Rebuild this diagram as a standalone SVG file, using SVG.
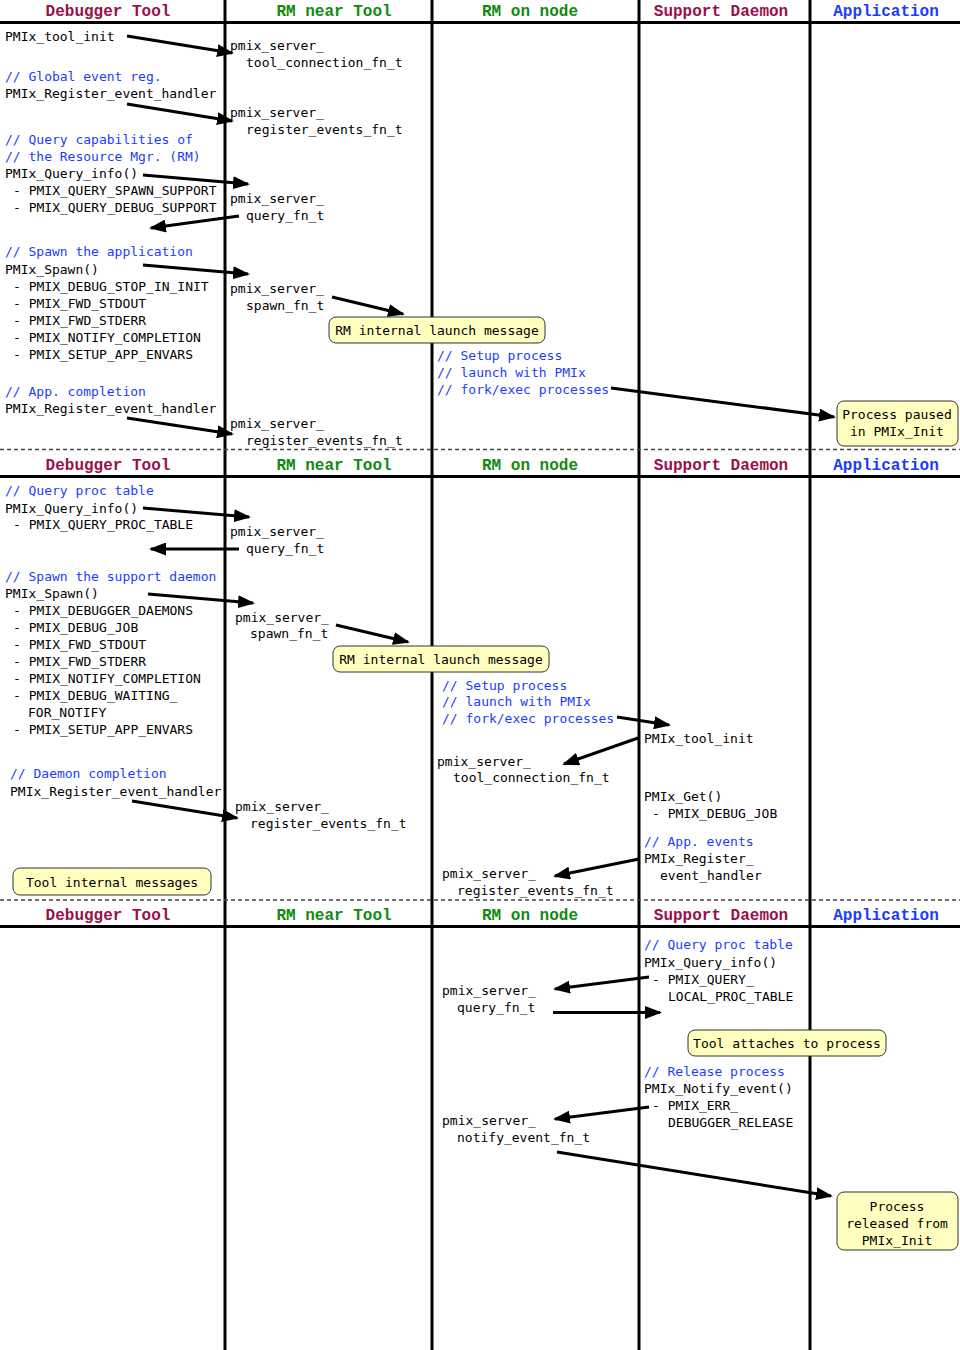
<svg xmlns="http://www.w3.org/2000/svg" width="960" height="1350" viewBox="0 0 960 1350">
<style>
.bg{fill:#ffffff}
.lane{stroke:#000;stroke-width:3;fill:none}
.dash{stroke:#444;stroke-width:1.5;stroke-dasharray:4 3;fill:none}
.hd{font-family:"Liberation Mono","Courier New",monospace;font-weight:bold;font-size:16px;text-anchor:middle}
.mar{fill:#99104a}
.grn{fill:#108a10}
.blu{fill:#1a3cff}
.t{font-family:"DejaVu Sans Mono","Liberation Mono",monospace;font-size:13px;fill:#000}
.c{font-family:"DejaVu Sans Mono","Liberation Mono",monospace;font-size:13px;fill:#1a3cff}
.box{fill:#ffffc0;stroke:#333;stroke-width:1}
.bt{font-family:"DejaVu Sans Mono","Liberation Mono",monospace;font-size:13px;fill:#000;text-anchor:middle}
.arr{stroke:#000;stroke-width:3;fill:none;marker-end:url(#ah)}
</style>
<defs>
<marker id="ah" markerUnits="userSpaceOnUse" viewBox="0 0 17 13" markerWidth="17" markerHeight="13" refX="15" refY="6.5" orient="auto">
<path d="M0,0 L17,6.5 L0,13 z" fill="#000"/>
</marker>
</defs>
<rect class="bg" x="0" y="0" width="960" height="1350"/>

<g id="lanes">
<line class="lane" x1="225" y1="0" x2="225" y2="1350"/>
<line class="lane" x1="432" y1="0" x2="432" y2="1350"/>
<line class="lane" x1="639" y1="0" x2="639" y2="1350"/>
<line class="lane" x1="810" y1="0" x2="810" y2="1350"/>
<line class="lane" x1="0" y1="22.5" x2="960" y2="22.5"/>
<line class="lane" x1="0" y1="476.5" x2="960" y2="476.5"/>
<line class="lane" x1="0" y1="926.5" x2="960" y2="926.5"/>
<line class="dash" x1="0" y1="449.5" x2="960" y2="449.5"/>
<line class="dash" x1="0" y1="900" x2="960" y2="900"/>
</g>

<g id="headers">
<text class="hd mar" x="108" y="16">Debugger Tool</text>
<text class="hd grn" x="334" y="16">RM near Tool</text>
<text class="hd grn" x="530" y="16">RM on node</text>
<text class="hd mar" x="721" y="16">Support Daemon</text>
<text class="hd blu" x="886" y="16">Application</text>
<text class="hd mar" x="108" y="470">Debugger Tool</text>
<text class="hd grn" x="334" y="470">RM near Tool</text>
<text class="hd grn" x="530" y="470">RM on node</text>
<text class="hd mar" x="721" y="470">Support Daemon</text>
<text class="hd blu" x="886" y="470">Application</text>
<text class="hd mar" x="108" y="920">Debugger Tool</text>
<text class="hd grn" x="334" y="920">RM near Tool</text>
<text class="hd grn" x="530" y="920">RM on node</text>
<text class="hd mar" x="721" y="920">Support Daemon</text>
<text class="hd blu" x="886" y="920">Application</text>
</g>

<!-- Section 1 -->
<g id="tool-init">
<text class="t" x="5" y="41">PMIx_tool_init</text>
</g>
<g id="tool-global-reg">
<text class="c" x="5" y="81">// Global event reg.</text>
<text class="t" x="5" y="98">PMIx_Register_event_handler</text>
</g>
<g id="tool-query">
<text class="c" x="5" y="144">// Query capabilities of</text>
<text class="c" x="5" y="161">// the Resource Mgr. (RM)</text>
<text class="t" x="5" y="178">PMIx_Query_info()</text>
<text class="t" x="13" y="195">- PMIX_QUERY_SPAWN_SUPPORT</text>
<text class="t" x="13" y="212">- PMIX_QUERY_DEBUG_SUPPORT</text>
</g>
<g id="tool-spawn">
<text class="c" x="5" y="256">// Spawn the application</text>
<text class="t" x="5" y="274">PMIx_Spawn()</text>
<text class="t" x="13" y="291">- PMIX_DEBUG_STOP_IN_INIT</text>
<text class="t" x="13" y="308">- PMIX_FWD_STDOUT</text>
<text class="t" x="13" y="325">- PMIX_FWD_STDERR</text>
<text class="t" x="13" y="342">- PMIX_NOTIFY_COMPLETION</text>
<text class="t" x="13" y="359">- PMIX_SETUP_APP_ENVARS</text>
</g>
<g id="tool-app-completion">
<text class="c" x="5" y="396">// App. completion</text>
<text class="t" x="5" y="413">PMIx_Register_event_handler</text>
</g>
<g id="rm-tool-connection">
<text class="t" x="230" y="50">pmix_server_</text>
<text class="t" x="246" y="67">tool_connection_fn_t</text>
</g>
<g id="rm-register-events-1">
<text class="t" x="230" y="117">pmix_server_</text>
<text class="t" x="246" y="134">register_events_fn_t</text>
</g>
<g id="rm-query-1">
<text class="t" x="230" y="203">pmix_server_</text>
<text class="t" x="246" y="220">query_fn_t</text>
</g>
<g id="rm-spawn-1">
<text class="t" x="230" y="293">pmix_server_</text>
<text class="t" x="246" y="310">spawn_fn_t</text>
</g>
<g id="rm-register-events-2">
<text class="t" x="230" y="428">pmix_server_</text>
<text class="t" x="246" y="445">register_events_fn_t</text>
</g>
<g id="launch-msg-1">
<rect class="box" x="329" y="317" width="216" height="26" rx="7"/>
<text class="bt" x="437" y="335">RM internal launch message</text>
</g>
<g id="node-setup-1">
<text class="c" x="437" y="360">// Setup process</text>
<text class="c" x="437" y="377">// launch with PMIx</text>
<text class="c" x="437" y="394">// fork/exec processes</text>
</g>
<g id="app-paused">
<rect class="box" x="837" y="401" width="121" height="45" rx="7"/>
<text class="bt" x="897" y="419">Process paused</text>
<text class="bt" x="897" y="436">in PMIx_Init</text>
</g>

<!-- Section 2 -->
<g id="tool-query-proc">
<text class="c" x="5" y="495">// Query proc table</text>
<text class="t" x="5" y="513">PMIx_Query_info()</text>
<text class="t" x="13" y="529">- PMIX_QUERY_PROC_TABLE</text>
</g>
<g id="tool-spawn-daemon">
<text class="c" x="5" y="581">// Spawn the support daemon</text>
<text class="t" x="5" y="598">PMIx_Spawn()</text>
<text class="t" x="13" y="615">- PMIX_DEBUGGER_DAEMONS</text>
<text class="t" x="13" y="632">- PMIX_DEBUG_JOB</text>
<text class="t" x="13" y="649">- PMIX_FWD_STDOUT</text>
<text class="t" x="13" y="666">- PMIX_FWD_STDERR</text>
<text class="t" x="13" y="683">- PMIX_NOTIFY_COMPLETION</text>
<text class="t" x="13" y="700">- PMIX_DEBUG_WAITING_</text>
<text class="t" x="28" y="717">FOR_NOTIFY</text>
<text class="t" x="13" y="734">- PMIX_SETUP_APP_ENVARS</text>
</g>
<g id="tool-daemon-completion">
<text class="c" x="10" y="778">// Daemon completion</text>
<text class="t" x="10" y="796">PMIx_Register_event_handler</text>
</g>
<g id="tool-internal">
<rect class="box" x="13" y="868" width="198" height="27" rx="7"/>
<text class="bt" x="112" y="887">Tool internal messages</text>
</g>
<g id="rm-query-2">
<text class="t" x="230" y="536">pmix_server_</text>
<text class="t" x="246" y="553">query_fn_t</text>
</g>
<g id="rm-spawn-2">
<text class="t" x="235" y="622">pmix_server_</text>
<text class="t" x="250" y="638">spawn_fn_t</text>
</g>
<g id="rm-register-events-3">
<text class="t" x="235" y="811">pmix_server_</text>
<text class="t" x="250" y="828">register_events_fn_t</text>
</g>
<g id="launch-msg-2">
<rect class="box" x="333" y="646" width="216" height="26" rx="7"/>
<text class="bt" x="441" y="664">RM internal launch message</text>
</g>
<g id="node-setup-2">
<text class="c" x="442" y="690">// Setup process</text>
<text class="c" x="442" y="706">// launch with PMIx</text>
<text class="c" x="442" y="723">// fork/exec processes</text>
</g>
<g id="node-tool-connection">
<text class="t" x="437" y="766">pmix_server_</text>
<text class="t" x="453" y="782">tool_connection_fn_t</text>
</g>
<g id="node-register-events">
<text class="t" x="442" y="878">pmix_server_</text>
<text class="t" x="457" y="895">register_events_fn_t</text>
</g>
<g id="daemon-tool-init">
<text class="t" x="644" y="743">PMIx_tool_init</text>
</g>
<g id="daemon-get">
<text class="t" x="644" y="801">PMIx_Get()</text>
<text class="t" x="652" y="818">- PMIX_DEBUG_JOB</text>
</g>
<g id="daemon-app-events">
<text class="c" x="644" y="846">// App. events</text>
<text class="t" x="644" y="863">PMIx_Register_</text>
<text class="t" x="660" y="880">event_handler</text>
</g>

<!-- Section 3 -->
<g id="daemon-query-proc">
<text class="c" x="644" y="949">// Query proc table</text>
<text class="t" x="644" y="967">PMIx_Query_info()</text>
<text class="t" x="652" y="984">- PMIX_QUERY_</text>
<text class="t" x="668" y="1001">LOCAL_PROC_TABLE</text>
</g>
<g id="node-query">
<text class="t" x="442" y="995">pmix_server_</text>
<text class="t" x="457" y="1012">query_fn_t</text>
</g>
<g id="tool-attaches">
<rect class="box" x="688" y="1030" width="198" height="26" rx="7"/>
<text class="bt" x="787" y="1048">Tool attaches to process</text>
</g>
<g id="daemon-release">
<text class="c" x="644" y="1076">// Release process</text>
<text class="t" x="644" y="1093">PMIx_Notify_event()</text>
<text class="t" x="652" y="1110">- PMIX_ERR_</text>
<text class="t" x="668" y="1127">DEBUGGER_RELEASE</text>
</g>
<g id="node-notify">
<text class="t" x="442" y="1125">pmix_server_</text>
<text class="t" x="457" y="1142">notify_event_fn_t</text>
</g>
<g id="app-released">
<rect class="box" x="837" y="1192" width="121" height="58" rx="7"/>
<text class="bt" x="897" y="1211">Process</text>
<text class="bt" x="897" y="1228">released from</text>
<text class="bt" x="897" y="1245">PMIx_Init</text>
</g>

<g id="connectors">
<line class="arr" x1="127" y1="36" x2="232" y2="53"/>
<line class="arr" x1="127" y1="104" x2="232" y2="121"/>
<line class="arr" x1="143" y1="175" x2="248" y2="184"/>
<line class="arr" x1="239" y1="216" x2="151" y2="228"/>
<line class="arr" x1="143" y1="265" x2="248" y2="274"/>
<line class="arr" x1="332" y1="297" x2="403" y2="314"/>
<line class="arr" x1="611" y1="388" x2="834" y2="417"/>
<line class="arr" x1="127" y1="418" x2="232" y2="434"/>

<line class="arr" x1="143" y1="508" x2="249" y2="517"/>
<line class="arr" x1="239" y1="549" x2="151" y2="549"/>
<line class="arr" x1="148" y1="594" x2="253" y2="603"/>
<line class="arr" x1="336" y1="625" x2="408" y2="642"/>
<line class="arr" x1="617" y1="717" x2="669" y2="725"/>
<line class="arr" x1="638" y1="738" x2="564" y2="764"/>
<line class="arr" x1="132" y1="801" x2="237" y2="818"/>
<line class="arr" x1="639" y1="859" x2="555" y2="876"/>

<line class="arr" x1="649" y1="977" x2="555" y2="989"/>
<line class="arr" x1="553" y1="1012.5" x2="660" y2="1012.5"/>
<line class="arr" x1="649" y1="1107" x2="555" y2="1119"/>
<line class="arr" x1="557" y1="1152" x2="831" y2="1196"/>
</g>
</svg>
